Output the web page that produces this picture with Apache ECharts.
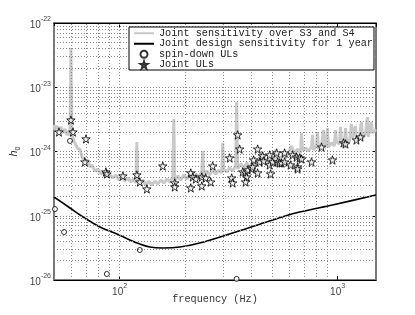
<!DOCTYPE html>
<html>
<head>
<meta charset="utf-8">
<script src="https://cdn.jsdelivr.net/npm/echarts@6/dist/echarts.min.js"></script>
<style>html,body{margin:0;padding:0;background:#fff}#c{width:415px;height:315px}#err{position:absolute;left:0;top:0;font:9px monospace;color:red;white-space:pre-wrap;width:415px}</style>
</head>
<body>
<div id="c"></div>
<div id="err"></div>
<script>
window.onerror = function(m, s, l, c, e){ document.getElementById('err').textContent += m + ' ' + (e && e.stack || '') + '\n'; };
// ---- data (frequency in Hz, h0 in units of 1e-24) ----
const sensFreq = [50.0,50.5,51.6,52.7,53.8,55.0,56.2,57.3,58.6,59.2,59.8,60.4,61.7,63.0,64.4,65.8,67.2,68.6,70.1,71.5,73.1,74.6,77.0,79.5,82.1,84.7,87.4,90.2,93.1,96.1,99.2,102.4,105.7,109.1,112.6,116.2,118.7,120.0,121.2,123.8,127.8,131.9,136.1,140.5,145.0,149.7,154.5,159.5,164.6,169.9,175.4,177.2,179.1,184.8,190.8,196.9,203.3,209.8,216.5,223.5,230.7,238.1,240.7,243.2,250.9,259.0,267.3,275.9,284.8,294.0,297.1,300.2,309.9,319.8,330.1,340.7,344.3,348.0,359.2,370.7,382.6,394.9,407.6,420.7,434.2,448.1,462.5,477.4,492.7,508.5,519.3,524.8,541.7,559.1,577.0,595.6,614.7,634.4,654.8,675.9,683.0,690.3,712.5,735.4,759.0,767.1,775.2,800.1,808.6,817.2,843.4,861.4,870.5,889.1,898.5,908.0,937.5,967.4,977.6,988.0,1019.8,1030.6,1041,1075,1086.4,1097.9,1133.3,1157.4,1169.7,1207.3,1220,1259,1286.0,1300,1342,1370.4,1385,1429,1444.2,1475,1490.6,1500];
const sensH = [2.58,2.16,2.49,2.08,2.41,1.94,2.24,1.81,2.08,1.74,40.8,1.81,1.46,1.46,1.09,1.09,0.821,0.882,0.686,0.737,0.574,0.617,0.497,0.534,0.446,0.480,0.401,0.446,0.387,0.431,0.360,0.416,0.347,0.387,0.335,0.373,0.323,1.41,0.360,0.312,0.360,0.301,0.347,0.301,0.347,0.312,0.360,0.323,0.373,0.335,0.401,3.20,0.347,0.416,0.360,0.431,0.373,0.431,0.387,0.446,0.401,0.480,1.02,0.416,0.497,0.431,0.515,0.446,0.515,0.463,1.36,0.534,0.480,0.554,0.497,0.595,5.89,0.534,0.639,0.554,0.662,0.574,0.686,0.617,0.711,0.982,0.737,0.662,0.792,0.711,1.055,0.851,0.737,0.882,0.792,0.948,1.22,0.914,1.09,0.948,1.94,1.02,1.13,1.02,1.17,1.81,1.055,1.22,2.01,1.09,1.26,2.16,1.13,1.31,2.32,1.17,1.36,1.22,2.16,1.41,1.31,2.41,1.51,1.36,2.32,1.51,1.41,2.68,1.62,2.49,1.51,1.74,2.88,1.57,1.87,3.44,1.68,2.88,1.94,1.81,2.16,2.2];

const designFreq = [50,59.2,67.9,81.2,97.2,111.4,123.8,137.6,157.8,188.8,233,330,472,669,947,1500];
const designH = [0.196,0.132,0.0957,0.0669,0.052,0.042,0.0363,0.0326,0.0315,0.0326,0.0377,0.054,0.080,0.114,0.147,0.21];

const spinFreq = [59.2,50.5,55.6,123.8,87.4,344];
const spinH = [1.46,0.127,0.0558,0.0293,0.0124,0.0104];

const ulFreq = [52.7,59.8,61.1,70.1,69.3,86.5,87.4,103.5,120,123.8,133.3,157.8,179,179,212,216.5,223.6,212,238.2,238.2,248.3,261.8,267.3,319.8,326.6,330,347.9,355.3,366.7,378.6,382.6,378.6,386.7,403.4,407.6,411.9,429.6,429.6,438.8,452.9,457.7,487.6,487.6,492.7,503.2,525,530.6,541.9,553.4,571.2,571.2,608.3,621.5,648.2,655.1,655.1,669,683.3,759.3,843.7,947.4,1064,1087,1220,1273];
const ulH = [2.01,3.09,2.01,1.57,0.687,0.480,0.447,0.416,0.431,0.335,0.261,0.594,0.324,0.281,0.463,0.401,0.373,0.271,0.401,0.291,0.387,0.335,0.594,0.793,0.387,0.324,1.81,1.09,0.480,0.463,0.401,0.335,0.515,0.534,0.574,0.738,0.463,1.09,0.687,0.851,0.711,0.883,0.617,0.447,0.687,0.948,0.687,0.662,0.662,0.948,0.687,0.617,0.883,0.82,0.574,0.534,0.793,0.764,0.687,1.17,0.738,1.36,1.31,1.51,1.68];

const seriesNames = ['Joint sensitivity over S3 and S4','Joint design sensitivity for 1 year','spin-down ULs','Joint ULs'];
const gridMultipliers = [1,2,3,4,5,6,7,8,9];
const xGridDecades = [10,100];          // vertical grid lines at k*decade (Hz)
const yGridDecades = [0.01,0.1,1,10];   // horizontal grid lines at k*decade (units of 1e-24)
const xRange = [50,1500];
const yRange = [0.01,100];              // 1e-26 .. 1e-22 expressed in units of 1e-24
const UNIT_EXP = -24;

// ---- build ----
const pairs = (fx, hy) => fx.map((f,i)=>[f, hy[i]]);
const vLines = [];
xGridDecades.forEach(d=>gridMultipliers.forEach(k=>{const v=k*d; if(v>xRange[0]&&v<xRange[1]) vLines.push({xAxis:v});}));
const hLines = [];
yGridDecades.forEach(d=>gridMultipliers.forEach(k=>{const v=+(k*d).toPrecision(6); if(v>yRange[0]*1.0001&&v<yRange[1]*0.9999) hLines.push({yAxis:v});}));

const STAR = 'path://M50,2 L61,37 L98,37 L68,59 L79,95 L50,73 L21,95 L32,59 L2,37 L39,37 Z';
const MONO = '"Liberation Mono","DejaVu Sans Mono",monospace';
const SANS = '"Liberation Sans","DejaVu Sans",sans-serif';

const pow10 = v => { const e=Math.log10(v); return Math.abs(e-Math.round(e))<1e-6 ? Math.round(e) : null; };
const rich = {
  b:{fontFamily:SANS,fontSize:10,color:'#444',lineHeight:14,verticalAlign:'bottom'},
  s:{fontFamily:SANS,fontSize:7,color:'#444',lineHeight:14,verticalAlign:'top'}
};
const hiddenSymbol = {opacity:0};

try {
const chart = echarts.init(document.getElementById('c'), null, {renderer:'canvas'});
chart.setOption({
  animation:false,
  backgroundColor:'#fff',
  grid:{left:54,right:39,top:23,bottom:35,show:true,borderColor:'#000',borderWidth:1,containLabel:false,outerBoundsMode:'none'},
  legend:{
    show:true, orient:'vertical', left:129, top:27, z:20,
    data:[
      {name:seriesNames[0], itemStyle:hiddenSymbol},
      {name:seriesNames[1], itemStyle:hiddenSymbol},
      {name:seriesNames[2]},
      {name:seriesNames[3]}
    ],
    itemWidth:20, itemHeight:7, itemGap:0,
    padding:[1,1,0,4],
    backgroundColor:'#fff', borderColor:'#000', borderWidth:1,
    textStyle:{fontFamily:MONO,fontSize:10.2,color:'#222',lineHeight:10.5},
    selectedMode:false
  },
  xAxis:[{
    type:'log', logBase:10, min:xRange[0], max:xRange[1],
    name:'frequency (Hz)', nameLocation:'middle', nameGap:14, nameMoveOverlap:false,
    nameTextStyle:{fontFamily:MONO,fontSize:10.2,color:'#333'},
    axisLine:{show:true,lineStyle:{color:'#000',width:1}},
    axisTick:{show:true,inside:true,length:4,lineStyle:{color:'#000'}},
    axisLabel:{margin:3,formatter:v=>{const e=pow10(v); return e===null?'':'{b|10}{s|'+e+'}';},rich:rich,showMinLabel:false,showMaxLabel:false},
    splitLine:{show:false}
  },{
    type:'log', logBase:10, min:xRange[0], max:xRange[1], position:'top',
    axisLine:{show:true,lineStyle:{color:'#000',width:1}},
    axisTick:{show:true,inside:true,length:4,lineStyle:{color:'#000'}},
    axisLabel:{show:false}, splitLine:{show:false}
  }],
  yAxis:[{
    type:'log', logBase:10, min:yRange[0], max:yRange[1],
    name:'{h|h}{z|0}', nameLocation:'middle', nameGap:32, nameRotate:90, nameMoveOverlap:false,
    nameTextStyle:{rich:{
      h:{fontFamily:SANS,fontStyle:'italic',fontSize:11,color:'#333',lineHeight:14,verticalAlign:'top'},
      z:{fontFamily:SANS,fontSize:7,color:'#333',lineHeight:14,verticalAlign:'bottom'}
    }},
    axisLine:{show:true,lineStyle:{color:'#777',width:2}},
    axisTick:{show:true,inside:true,length:4,lineStyle:{color:'#000'}},
    axisLabel:{margin:3,formatter:v=>{const e=pow10(v); return e===null?'':'{b|10}{s|'+(e+UNIT_EXP)+'}';},rich:rich},
    splitLine:{show:false}
  },{
    type:'log', logBase:10, min:yRange[0], max:yRange[1], position:'right',
    axisLine:{show:true,lineStyle:{color:'#777',width:2}},
    axisTick:{show:true,inside:true,length:4,lineStyle:{color:'#000'}},
    axisLabel:{show:false}, splitLine:{show:false}
  }],
  series:[
    {
      name:'grid', type:'line', data:[[xRange[0],yRange[0]]], z:1, silent:true, symbol:'none', lineStyle:{opacity:0},
      markLine:{silent:true,symbol:'none',label:{show:false},animation:false,
        lineStyle:{color:'#8a8a8a',type:[1,2],width:1},
        data:vLines.concat(hLines)}
    },
    {
      name:seriesNames[0], type:'line', data:pairs(sensFreq,sensH), z:2,
      symbol:'none', showSymbol:false,
      lineStyle:{color:'#c9c9c9',width:3}, itemStyle:{color:'#c9c9c9'}
    },
    {
      name:seriesNames[1], type:'line', data:pairs(designFreq,designH), z:3,
      symbol:'none', showSymbol:false, smooth:0.35,
      lineStyle:{color:'#000',width:1.6}, itemStyle:{color:'#000'}
    },
    {
      name:seriesNames[2], type:'scatter', data:pairs(spinFreq,spinH), z:4,
      symbol:'circle', symbolSize:5,
      itemStyle:{color:'#fff',borderColor:'#000',borderWidth:1}
    },
    {
      name:seriesNames[3], type:'scatter', data:pairs(ulFreq,ulH), z:5,
      symbol:STAR, symbolSize:8.5,
      itemStyle:{color:'#f2f2f2',borderColor:'#000',borderWidth:1}
    }
  ]
});
} catch(e) { document.getElementById('err').textContent += 'catch: ' + e.message + '\n' + e.stack; }
</script>
</body>
</html>
